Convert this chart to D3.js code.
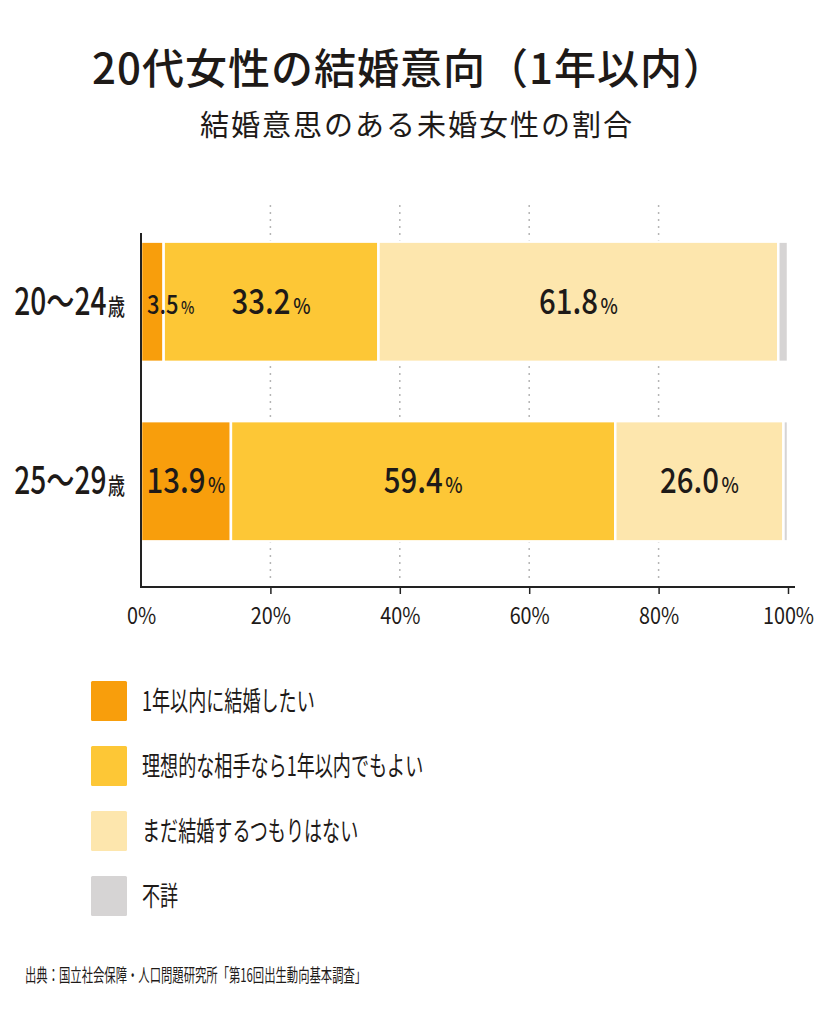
<!DOCTYPE html>
<html>
<head>
<meta charset="utf-8">
<script src="https://cdn.jsdelivr.net/npm/d3@7"></script>
<style>
  body { margin: 0; background: #fff; }
  svg { display: block; }
  text { font-family: "Noto Sans CJK JP", "Noto Sans", sans-serif; fill: #1e1a18; }
</style>
</head>
<body>
<svg id="chart" width="819" height="1024"></svg>
<script>
const ageGroups = ["20~24歳", "25~29歳"];
const seriesNames = ["1年以内に結婚したい", "理想的な相手なら1年以内でもよい", "まだ結婚するつもりはない", "不詳"];
const seriesColors = ["#f89e0c", "#fdc736", "#fde6ad", "#d6d4d4"];
const within1Year = [3.5, 13.9];
const idealPartner = [33.2, 59.4];
const notYet = [61.8, 26.0];
const unknown = [1.5, 0.7];
const xTicks = [0, 20, 40, 60, 80, 100];

const svg = d3.select("#chart");

// title
svg.append("text")
  .attr("x", 409).attr("y", 84)
  .attr("text-anchor", "middle")
  .style("font-size", "42px").style("font-weight", 500)
  .style("letter-spacing", "1px")
  .text("20代女性の結婚意向（1年以内）");

svg.append("text")
  .attr("x", 417).attr("y", 136)
  .attr("text-anchor", "middle")
  .style("font-size", "29px").style("letter-spacing", "2px")
  .text("結婚意思のある未婚女性の割合");

const x = d3.scaleLinear().domain([0, 100]).range([141, 788]);
const y = d3.scaleBand().domain(ageGroups).range([212, 571]).paddingInner(0.33).paddingOuter(0.165);

const rows = ageGroups.map((g, i) => {
  const vals = [within1Year[i], idealPartner[i], notYet[i], unknown[i]];
  let acc = 0;
  return vals.map((v, k) => {
    const seg = { group: g, key: k, value: v, x0: acc, x1: acc + v };
    acc += v;
    return seg;
  });
});

// dotted grid
svg.append("g")
  .selectAll("line")
  .data(xTicks.filter(d => d > 0 && d < 100))
  .join("line")
  .attr("x1", d => x(d)).attr("x2", d => x(d))
  .attr("y1", 205).attr("y2", 582)
  .attr("stroke", "#b5b5b5")
  .attr("stroke-width", 1.5)
  .attr("stroke-dasharray", "2,5");

// bars
svg.append("g")
  .selectAll("rect")
  .data(rows.flat())
  .join("rect")
  .attr("x", d => x(d.x0))
  .attr("y", d => y(d.group))
  .attr("width", d => x(d.x1) - x(d.x0))
  .attr("height", y.bandwidth())
  .attr("fill", d => seriesColors[d.key])
  .attr("stroke", "#fff")
  .attr("stroke-width", 2.5);

// value labels
const isNarrow = d => x(d.x1) - x(d.x0) < 60;
const labels = svg.append("g")
  .selectAll("text")
  .data(rows.flat().filter(d => d.key < 3))
  .join("text")
  .attr("transform", d => {
    const tx = isNarrow(d) ? x(d.x0) + 6 : (x(d.x0) + x(d.x1)) / 2;
    return `translate(${tx},${y(d.group) + y.bandwidth() / 2 + 12}) scale(0.84,1)`;
  })
  .attr("text-anchor", d => isNarrow(d) ? "start" : "middle")
  .style("font-weight", 500);
labels.append("tspan")
  .style("font-size", d => isNarrow(d) ? "26px" : "35px")
  .text(d => d.value.toFixed(1));
labels.append("tspan")
  .style("font-size", d => isNarrow(d) ? "17px" : "22px")
  .attr("dx", 3)
  .text("%");

// category labels
const cat = svg.append("g")
  .selectAll("text")
  .data(ageGroups)
  .join("text")
  .attr("transform", d => `translate(125,${y(d) + y.bandwidth() / 2 + 13}) scale(0.74,1)`)
  .attr("text-anchor", "end")
  .style("font-weight", 500);
cat.append("tspan").style("font-size", "38px").text(d => d.replace("~", "〜").replace("歳", ""));
cat.append("tspan").style("font-size", "23px").attr("dx", 2).text("歳");

// axes
svg.append("line")
  .attr("x1", 141).attr("x2", 141)
  .attr("y1", 233).attr("y2", 587)
  .attr("stroke", "#222").attr("stroke-width", 2);
svg.append("line")
  .attr("x1", 140).attr("x2", 795)
  .attr("y1", 587).attr("y2", 587)
  .attr("stroke", "#222").attr("stroke-width", 2);

const xAxis = svg.append("g")
  .attr("transform", "translate(0,587)")
  .call(d3.axisBottom(x).tickValues(xTicks).tickSizeInner(7).tickSizeOuter(0).tickPadding(14).tickFormat(d => d + "%"));
xAxis.select(".domain").remove();
xAxis.selectAll(".tick line").attr("stroke", "#222").attr("stroke-width", 1.5)
  .filter(d => d === 0).remove();
xAxis.selectAll(".tick text")
  .attr("fill", "#1e1a18")
  .attr("dy", "0.71em")
  .attr("x", 0)
  .attr("transform", "scale(0.86,1)")
  .style("font-size", "23px")
  .style("font-family", "'Noto Sans CJK JP', sans-serif");

// legend
const legend = svg.append("g")
  .selectAll("g")
  .data(seriesNames)
  .join("g")
  .attr("transform", (d, i) => `translate(91,${681 + i * 65})`);
legend.append("rect")
  .attr("width", 36).attr("height", 40).attr("rx", 1.5)
  .attr("fill", (d, i) => seriesColors[i]);
legend.append("text")
  .attr("transform", "translate(51,30) scale(0.67,1)")
  .style("font-size", "27px")
  .text(d => d);

// source
svg.append("text")
  .attr("transform", "translate(25,982) scale(0.63,1)")
  .style("font-size", "18px")
  .text("出典：国立社会保障・人口問題研究所「第16回出生動向基本調査」");
</script>
</body>
</html>
